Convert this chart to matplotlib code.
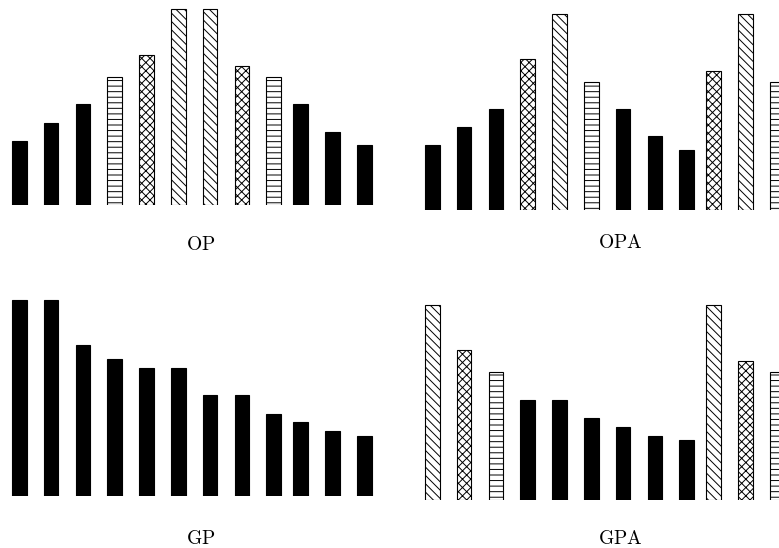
import matplotlib
matplotlib.use('Agg')
import matplotlib.pyplot as plt

plt.rcParams['mathtext.fontset'] = 'cm'
plt.rcParams['hatch.linewidth'] = 0.7

# ---- data ----
x_pos = [0, 1, 2, 3, 4, 5, 6, 7, 8, 8.85, 9.85, 10.85]

D = '\\\\\\\\'   # dense backslash hatch
X = 'xxxx'       # dense cross hatch
H = '---'        # horizontal lines

op_values = [64, 82, 101, 128, 150, 196, 196, 139, 128, 101, 73, 60]
op_hatch = ['', '', '', H, X, D, D, X, H, '', '', '']

opa_values = [65, 83, 101, 151, 196, 128, 101, 74, 60, 139, 196, 128]
opa_hatch = ['', '', '', X, D, H, '', '', '', X, D, H]

gp_values = [196, 196, 151, 137, 128, 128, 101, 101, 82, 74, 65, 60]
gp_hatch = [''] * 12

gpa_values = [195, 150, 128, 100, 100, 82, 73, 64, 60, 195, 139, 128]
gpa_hatch = [D, X, H, '', '', '', '', '', '', D, X, H]

panel_labels = ['OP', 'OPA', 'GP', 'GPA']

# ---- layout (pixels) ----
FW, FH = 779, 548
fig = plt.figure(figsize=(FW / 100, FH / 100), dpi=100)

unit = 31.8
ax_w = 12 * unit
ax_h = 200
panels = [
    (op_values, op_hatch, 3.35, 205, (200.5, 244)),
    (opa_values, opa_hatch, 416.35, 210, (620.5, 243)),
    (gp_values, gp_hatch, 3.35, 495.7, (200.5, 539)),
    (gpa_values, gpa_hatch, 416.35, 500, (620.5, 539)),
]

for (vals, hatches, left, bottom, lab_pos), lab in zip(panels, panel_labels):
    ax = fig.add_axes([left / FW, (FH - bottom) / FH, ax_w / FW, ax_h / FH])
    for x, v, h in zip(x_pos, vals, hatches):
        ax.bar(x, v, width=0.46, color='white' if h else 'black',
               edgecolor='black', linewidth=0.8, hatch=h)
    ax.set_xlim(-0.5, 11.5)
    ax.set_ylim(0, 200)
    ax.axis('off')
    fig.text(lab_pos[0] / FW, 1 - lab_pos[1] / FH, r'$\mathrm{' + lab + '}$',
             ha='center', va='center', fontsize=14)

fig.savefig('out.png', dpi=100)
